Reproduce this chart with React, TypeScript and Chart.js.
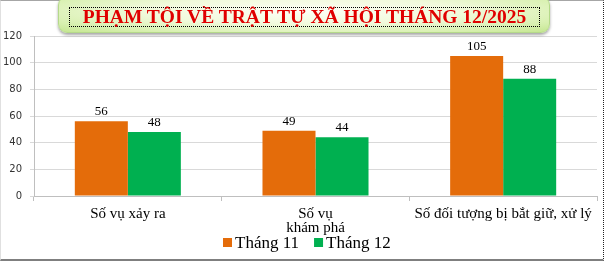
import React, { useEffect, useRef } from "react";
import { Chart, registerables } from "chart.js";

Chart.register(...registerables);

const chartTitle = "PHẠM TỘI VỀ TRẬT TỰ XÃ HỘI THÁNG 12/2025";
const categories: (string | string[])[] = [
  "Số vụ xảy ra",
  ["Số vụ", "khám phá"],
  "Số đối tượng bị bắt giữ, xử lý",
];
const seriesNames = ["Tháng 11", "Tháng 12"];
const thang11 = [56, 49, 105];
const thang12 = [48, 44, 88];
const yMin = 0;
const yMax = 120;
const yStep = 20;

const ORANGE = "#E46C0A";
const GREEN = "#00B050";
const SERIF = '"Liberation Serif", "Times New Roman", serif';

const valueLabels = {
  id: "valueLabels",
  afterDatasetsDraw(chart: any) {
    const ctx = chart.ctx;
    ctx.save();
    ctx.font = `13px ${SERIF}`;
    ctx.fillStyle = "#000";
    ctx.textAlign = "center";
    ctx.textBaseline = "alphabetic";
    chart.data.datasets.forEach((ds: any, i: number) => {
      const meta = chart.getDatasetMeta(i);
      meta.data.forEach((el: any, j: number) => {
        ctx.fillText(String(ds.data[j]), el.x, el.y - 6);
      });
    });
    ctx.restore();
  },
};

// Compact legend drawn below the axis labels (box–text gap and item gap as in the reference)
const bottomLegend = {
  id: "bottomLegend",
  afterDraw(chart: any) {
    const ctx = chart.ctx;
    const box = 9;
    const boxGap = 3;
    const itemGap = 15;
    const cy = 243;
    ctx.save();
    ctx.font = `17px ${SERIF}`;
    ctx.textBaseline = "middle";
    ctx.textAlign = "left";
    const items = chart.data.datasets.map((ds: any) => ({
      text: String(ds.label),
      color: ds.backgroundColor,
      w: ctx.measureText(String(ds.label)).width,
    }));
    const total =
      items.reduce((s: number, it: any) => s + box + boxGap + it.w, 0) +
      itemGap * (items.length - 1);
    let x = Math.round(chart.width / 2 + 5 - total / 2);
    items.forEach((it: any) => {
      ctx.fillStyle = it.color;
      ctx.fillRect(x, cy - box / 2 - 0.5, box, box);
      ctx.fillStyle = "#000";
      ctx.fillText(it.text, x + box + boxGap, cy + 0.5);
      x += box + boxGap + it.w + itemGap;
    });
    ctx.restore();
  },
};

export default function App() {
  const canvasRef = useRef<HTMLCanvasElement | null>(null);

  useEffect(() => {
    if (!canvasRef.current) return;
    const chart = new Chart(canvasRef.current, {
      type: "bar",
      data: {
        labels: categories,
        datasets: [
          {
            label: seriesNames[0],
            data: thang11,
            backgroundColor: ORANGE,
            borderWidth: 0,
          },
          {
            label: seriesNames[1],
            data: thang12,
            backgroundColor: GREEN,
            borderWidth: 0,
          },
        ],
      },
      options: {
        responsive: false,
        animation: false,
        devicePixelRatio: 1,
        layout: { padding: { top: 36, right: 7, bottom: 25, left: 0 } },
        datasets: {
          bar: { categoryPercentage: 0.565, barPercentage: 1 },
        },
        scales: {
          x: {
            grid: {
              display: true,
              drawOnChartArea: false,
              drawTicks: true,
              tickLength: 5,
              color: "#bfbfbf",
              offset: true,
            },
            border: { color: "#bfbfbf", width: 1 },
            ticks: {
              font: { family: SERIF, size: 15, lineHeight: "14px" },
              color: "#000",
              padding: 6,
              maxRotation: 0,
              autoSkip: false,
            },
            afterFit(scale: any) {
              scale.height = 40;
            },
          },
          y: {
            min: yMin,
            max: yMax,
            grid: {
              color: "#d9d9d9",
              tickLength: 4,
              drawTicks: true,
            },
            border: { color: "#bfbfbf", width: 1 },
            ticks: {
              stepSize: yStep,
              font: { family: '"DejaVu Sans", Verdana, sans-serif', size: 10 },
              color: "#333",
              padding: 8,
            },
            afterFit(scale: any) {
              scale.width = 34;
            },
          },
        },
        plugins: {
          legend: { display: false },
          title: { display: false },
          tooltip: { enabled: false },
        },
      },
      plugins: [valueLabels, bottomLegend],
    });
    return () => chart.destroy();
  }, []);

  return (
    <div
      style={{
        position: "fixed",
        left: 0,
        top: 0,
        width: 604,
        height: 261,
        background: "#fff",
        overflow: "hidden",
      }}
    >
      <canvas
        ref={canvasRef}
        width={604}
        height={261}
        style={{ position: "absolute", left: 0, top: 0, width: 604, height: 261 }}
      />
      <div
        style={{
          position: "absolute",
          left: 0,
          top: 0,
          width: 604,
          height: 261,
          boxSizing: "border-box",
          borderTop: "1px solid #a6a6a6",
          borderLeft: "1px solid #e0e0e0",
          borderBottom: "2px solid #7f7f7f",
          borderRight: "1px dotted #222",
          pointerEvents: "none",
        }}
      />
      <div
        style={{
          position: "absolute",
          left: 58,
          top: -4,
          width: 492,
          height: 37,
          boxSizing: "border-box",
          borderRadius: 9,
          border: "1px solid #b5d98a",
          background:
            "radial-gradient(ellipse at 50% 40%, #fdfff6 0%, #f1fadc 45%, #d8f0b0 80%, #c4e690 100%)",
          boxShadow: "0 2px 3px rgba(0,0,0,0.35)",
        }}
      >
        <div
          style={{
            position: "absolute",
            left: 10,
            top: 10,
            width: 471,
            height: 20,
            boxSizing: "border-box",
            border: "1px dotted #000",
            display: "flex",
            alignItems: "center",
            justifyContent: "center",
            fontFamily: SERIF,
            fontWeight: "bold",
            fontSize: 19.5,
            color: "#e00000",
            whiteSpace: "nowrap",
            lineHeight: "20px",
          }}
        >
          {chartTitle}
        </div>
      </div>
    </div>
  );
}
